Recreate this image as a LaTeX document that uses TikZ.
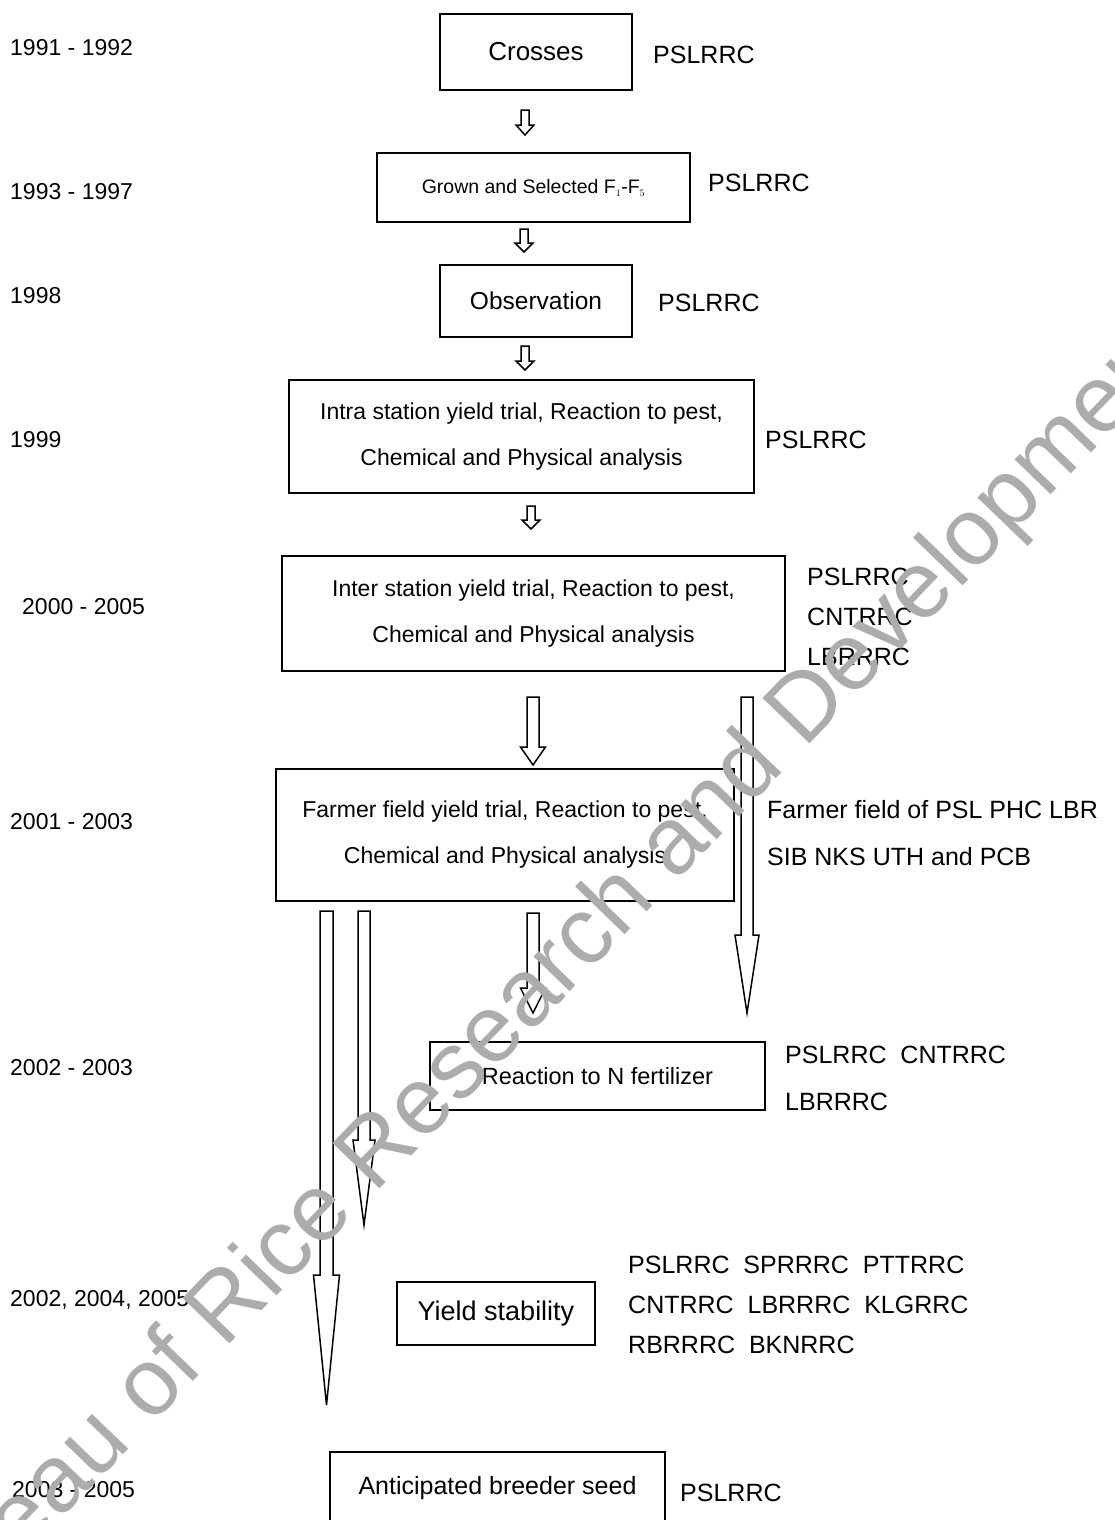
\documentclass[tikz,border=0pt]{standalone}
\usepackage{fontspec}
\setmainfont{Liberation Sans}
\usetikzlibrary{calc}
\definecolor{wm}{RGB}{172,172,172}
\tikzset{
  boxnode/.style={draw=black,line width=1.6pt,inner sep=0pt,align=center,fill=white},
  boxtext/.style={font=\fontsize{23}{46}\selectfont},
  lbl/.style={anchor=west,inner sep=0pt,font=\fontsize{25}{30}\selectfont},
  yr/.style={anchor=west,inner sep=0pt,font=\fontsize{23}{28}\selectfont},
  arrowline/.style={draw=black,line width=1.5pt,fill=white,line join=miter}
}
\newcommand{\blockarrow}[6]{% xc, ytop, yhead, ytip, half shaft, half head
  \draw[arrowline] ({#1-#5},#2) -- ({#1+#5},#2) -- ({#1+#5},#3) -- ({#1+#6},#3) -- (#1,#4) -- ({#1-#6},#3) -- ({#1-#5},#3) -- cycle;}
\begin{document}
\begin{tikzpicture}[x=1pt,y=-1pt]
\useasboundingbox (0,0) rectangle (1114,1520);
\begin{scope}
\clip (0,0) rectangle (1114,1520);
% boxes
\node[boxnode,minimum width=192pt,minimum height=76pt,font=\fontsize{26}{30}\selectfont] (crosses) at (536,52) {Crosses};
\node[boxnode,minimum width=313pt,minimum height=69pt,font=\fontsize{19.5}{24}\selectfont] (grown) at (533.5,187.5) {Grown and Selected F$_{\scriptscriptstyle 1}$-F$_{\scriptscriptstyle 5}$};
\node[boxnode,minimum width=192pt,minimum height=72pt,font=\fontsize{24.5}{30}\selectfont] (obs) at (536,301) {Observation};
\node[boxnode,boxtext,minimum width=465pt,minimum height=113pt] (intra) at (521.5,436.5) {Intra station yield trial, Reaction to pest,\\Chemical and Physical analysis};
\node[boxnode,boxtext,minimum width=503pt,minimum height=115pt] (inter) at (533.5,613.5) {Inter station yield trial, Reaction to pest,\\Chemical and Physical analysis};
\node[boxnode,boxtext,minimum width=458pt,minimum height=132pt] (farmer) at (505,835) {Farmer field yield trial, Reaction to pest,\\Chemical and Physical analysis};
\node[boxnode,minimum width=335pt,minimum height=68pt,font=\fontsize{23.5}{28}\selectfont] (nfert) at (597.5,1076) {Reaction to N fertilizer};
\node[boxnode,minimum width=198pt,minimum height=63pt,font=\fontsize{27}{32}\selectfont] (yield) at (496,1313.5) {Yield stability};
\node[boxnode,minimum width=335pt,minimum height=72pt,font=\fontsize{25}{30}\selectfont] (antic) at (497.5,1488) {Anticipated breeder seed};
% small arrows
\blockarrow{525}{110}{125}{135}{4}{9}
\blockarrow{524}{229}{243}{252}{4}{9}
\blockarrow{525}{346}{361}{370}{4}{9}
\blockarrow{531}{506}{520}{529}{4}{9}
% big arrows
\blockarrow{533}{697}{747}{765}{6}{12.5}
\blockarrow{747}{697}{935}{1013}{6}{12}
\blockarrow{533}{913}{988}{1013}{6}{12.5}
\blockarrow{326.5}{911}{1275}{1405}{6.5}{13}
\blockarrow{364}{911}{1140}{1225}{6}{11}
% right labels
\node[lbl] (l1) at (653,55) {PSLRRC};
\node[lbl] (l2) at (708,183) {PSLRRC};
\node[lbl] (l3) at (658,303) {PSLRRC};
\node[lbl] (l4) at (765,440) {PSLRRC};
\node[lbl] (l5a) at (807,577) {PSLRRC};
\node[lbl] (l5b) at (807,617) {CNTRRC};
\node[lbl] (l5c) at (807,657) {LBRRRC};
\node[lbl] (l6a) at (767,810) {Farmer field of PSL PHC LBR};
\node[lbl] (l6b) at (767,857) {SIB NKS UTH and PCB};
\node[lbl] (l7a) at (785,1055) {PSLRRC\ \ CNTRRC};
\node[lbl] (l7b) at (785,1102) {LBRRRC};
\node[lbl] (l8a) at (628,1265) {PSLRRC\ \ SPRRRC\ \ PTTRRC};
\node[lbl] (l8b) at (628,1305) {CNTRRC\ \ LBRRRC\ \ KLGRRC};
\node[lbl] (l8c) at (628,1345) {RBRRRC\ \ BKNRRC};
\node[lbl] (l9) at (680,1493) {PSLRRC};
% years
\node[yr] (y1) at (10,48) {1991 - 1992};
\node[yr] (y2) at (10,192) {1993 - 1997};
\node[yr] (y3) at (10,296) {1998};
\node[yr] (y4) at (10,440) {1999};
\node[yr] (y5) at (22,607) {2000 - 2005};
\node[yr] (y6) at (10,822) {2001 - 2003};
\node[yr] (y7) at (10,1068) {2002 - 2003};
\node[yr] (y8) at (10,1300) {2002, 2004, 2005};
\node[yr] (y9) at (12,1490) {2003 - 2005};
% watermark
\node[text=wm,rotate=46,inner sep=0pt,font=\fontsize{95}{100}\selectfont] (wmk) at (539,989) {Bureau of Rice Research and Development};
\end{scope}
\end{tikzpicture}
\end{document}
